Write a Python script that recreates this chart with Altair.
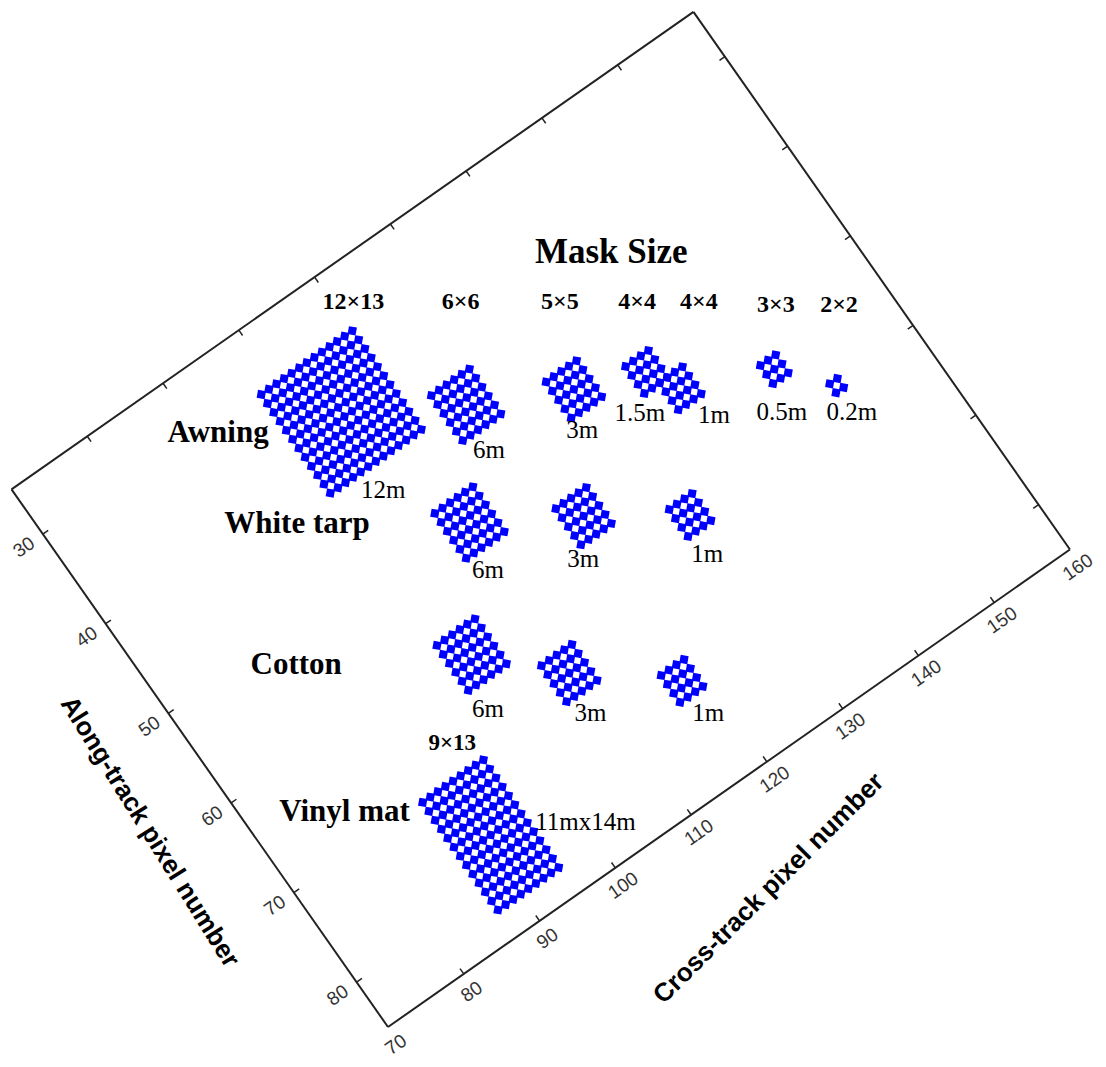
import math
import altair as alt
import pandas as pd

# ---------------- axes (data units: pixel numbers) ----------------
cross_range = [70, 160]          # Cross-track pixel number
along_range = [25, 85]           # Along-track pixel number
cross_tick_values = [70, 80, 90, 100, 110, 120, 130, 140, 150, 160]
along_tick_values = [30, 40, 50, 60, 70, 80]

# ---------------- mask blocks (grid of pixels) ----------------
block_material = ["Awning"] * 7 + ["White tarp"] * 3 + ["Cotton"] * 3 + ["Vinyl mat"]
block_cross_start = [98, 113, 124, 132, 134, 144, 149, 106, 117, 127, 98, 106, 116, 87]
block_cross_end = [110, 118, 128, 135, 137, 146, 150, 111, 121, 130, 103, 110, 119, 95]
block_along_start = [31, 40, 45, 48, 51, 55, 60, 49, 55, 61, 59, 66, 73, 70]
block_along_end = [42, 45, 49, 51, 54, 57, 61, 54, 59, 64, 64, 70, 76, 82]

# ---------------- annotations (anchored in data units) ----------------
title_text = ["Mask Size"]
title_cross = [137.8]
title_along = [38.7]

mask_text = ["12×13", "6×6", "5×5", "4×4", "4×4", "3×3", "2×2"]
mask_cross = [111.9, 121.4, 130.2, 137.0, 142.5, 149.1, 154.7]
mask_along = [28.9, 34.5, 39.7, 43.8, 47.0, 51.3, 54.6]

vinyl_mask_text = ["9×13"]
vinyl_mask_cross = [93.3]
vinyl_mask_along = [67.1]

material_text = ["Awning", "White tarp", "Cotton", "Vinyl mat"]
material_cross = [91.8, 93.1, 84.3, 79.5]
material_along = [31.6, 42.6, 53.1, 66.6]

size_text = ["12m", "6m", "3m", "1.5m", "1m", "0.5m", "0.2m",
             "6m", "3m", "1m", "6m", "3m", "1m", "11mx14m"]
size_cross = [102.9, 114.7, 124.2, 130.4, 136.8, 143.0, 149.2,
              107.2, 116.3, 127.6, 98.6, 107.4, 117.8, 100.2]
size_along = [44.5, 47.1, 50.5, 52.2, 56.3, 59.6, 63.3,
              56.0, 60.2, 66.3, 66.4, 72.1, 78.3, 80.0]

axis_title_text = ["Along-track pixel number", "Cross-track pixel number"]
axis_title_cross = [61.0, 112.3]
axis_title_along = [57.9, 94.6]
axis_title_angle = [58, 315]

# ---------------- rotated frame projection ----------------
ROT_DEG = 35.0            # the whole plot frame is rotated counter-clockwise
PX_PER_CROSS = 9.25
PX_PER_ALONG = 10.94
ANCHOR_PX = (388, 1027)   # page position of (cross=70, along=85)
cos_r = math.cos(math.radians(ROT_DEG))
sin_r = math.sin(math.radians(ROT_DEG))


def ex(c, a):
    return (f"{ANCHOR_PX[0]} + (({c}) - {cross_range[0]})*{PX_PER_CROSS * cos_r} "
            f"+ (({a}) - {along_range[1]})*{PX_PER_ALONG * sin_r}")


def ey(c, a):
    return (f"{ANCHOR_PX[1]} - (({c}) - {cross_range[0]})*{PX_PER_CROSS * sin_r} "
            f"+ (({a}) - {along_range[1]})*{PX_PER_ALONG * cos_r}")


W, H = 1090, 1050
XS = alt.Scale(domain=[8, 8 + W], nice=False, zero=False)
YS = alt.Scale(domain=[8, 8 + H], nice=False, zero=False, reverse=True)


def pos(chart):
    return chart.transform_calculate(px=ex("datum.c", "datum.a"), py=ey("datum.c", "datum.a"))


def seg(chart):
    return chart.transform_calculate(
        px=ex("datum.c1", "datum.a1"), py=ey("datum.c1", "datum.a1"),
        px2=ex("datum.c2", "datum.a2"), py2=ey("datum.c2", "datum.a2"))


def seg_enc(chart):
    return chart.encode(
        x=alt.X("px:Q", scale=XS, axis=None),
        y=alt.Y("py:Q", scale=YS, axis=None),
        x2="px2:Q", y2="py2:Q")


def pt_enc(chart, **kw):
    return chart.encode(
        x=alt.X("px:Q", scale=XS, axis=None),
        y=alt.Y("py:Q", scale=YS, axis=None), **kw)


# frame box
c0, c1 = cross_range
a0, a1 = along_range
box = pd.DataFrame({
    "c1": [c0, c0, c1, c0], "a1": [a0, a1, a1, a0],
    "c2": [c0, c1, c1, c1], "a2": [a1, a1, a0, a0]})
box_layer = seg_enc(seg(alt.Chart(box).mark_rule(color="#222222", strokeWidth=2)))

# tick marks (inward, mirrored on opposite sides)
TICK_C = 0.7
TICK_A = 0.6
rows = []
for v in along_tick_values:
    rows.append((c0, v, c0 + TICK_C, v))
    rows.append((c1, v, c1 - TICK_C, v))
for v in cross_tick_values[1:-1]:
    rows.append((v, a1, v, a1 - TICK_A))
    rows.append((v, a0, v, a0 + TICK_A))
ticks = pd.DataFrame(rows, columns=["c1", "a1", "c2", "a2"])
tick_layer = seg_enc(seg(alt.Chart(ticks).mark_rule(color="#222222", strokeWidth=1.5)))

# tick labels
LAB_OFF_C = 2.5
LAB_OFF_A = 1.75
LAB_SHIFT_C = 0.4
lab = pd.DataFrame(
    [(c0 - LAB_OFF_C, v, str(v)) for v in along_tick_values]
    + [(v - LAB_SHIFT_C, a1 + LAB_OFF_A, str(v)) for v in cross_tick_values],
    columns=["c", "a", "t"])
tick_label_layer = pt_enc(pos(alt.Chart(lab).mark_text(
    font="Liberation Sans", fontSize=19, color="#333333", angle=325,
    align="center", baseline="middle")), text="t:N")

# grid points of each mask
pts = []
for m, cs, ce, as_, ae in zip(block_material, block_cross_start, block_cross_end,
                              block_along_start, block_along_end):
    for c in range(cs, ce + 1):
        for a in range(as_, ae + 1):
            pts.append((m, c, a))
points = pd.DataFrame(pts, columns=["material", "c", "a"])
point_layer = pt_enc(pos(alt.Chart(points).mark_point(
    shape="diamond", filled=True, size=130, color="#0000FF", opacity=1, angle=325)))


def text_layer(texts, cs, as_, **style):
    df = pd.DataFrame({"t": texts, "c": cs, "a": as_})
    return pt_enc(pos(alt.Chart(df).mark_text(align="center", baseline="middle",
                                              color="black", **style)), text="t:N")


title_layer = text_layer(title_text, title_cross, title_along,
                         font="Liberation Serif", fontSize=35, fontWeight="bold")
mask_layer = text_layer(mask_text, mask_cross, mask_along,
                        font="Liberation Serif", fontSize=24, fontWeight="bold")
vinyl_layer = text_layer(vinyl_mask_text, vinyl_mask_cross, vinyl_mask_along,
                         font="Liberation Serif", fontSize=23, fontWeight="bold")
material_layer = text_layer(material_text, material_cross, material_along,
                            font="Liberation Serif", fontSize=31, fontWeight="bold")
size_layer = text_layer(size_text, size_cross, size_along,
                        font="Liberation Serif", fontSize=25)

axt = pd.DataFrame({"t": axis_title_text, "c": axis_title_cross,
                    "a": axis_title_along, "ang": axis_title_angle})
axis_title_layer = pt_enc(pos(alt.Chart(axt).mark_text(
    font="Liberation Sans", fontSize=26, fontWeight="bold", color="black",
    align="center", baseline="middle")), text="t:N", angle=alt.Angle("ang:Q", scale=None))

chart = alt.layer(
    box_layer, tick_layer, tick_label_layer, point_layer,
    title_layer, mask_layer, vinyl_layer, material_layer, size_layer, axis_title_layer
).properties(
    width=W, height=H, padding=0,
    autosize=alt.AutoSizeParams(type="none"),
).configure_view(stroke=None)

chart.save("out.html", embed_options={"renderer": "svg", "actions": False})
